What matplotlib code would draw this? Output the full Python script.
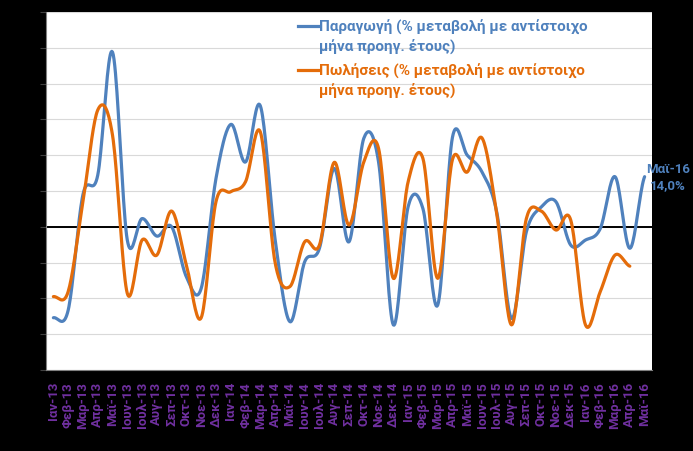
import numpy as np
import matplotlib
matplotlib.use("Agg")
import matplotlib.pyplot as plt
from matplotlib.lines import Line2D

# Monthly labels, Jan-13 .. May-16
months = ["Ιαν-13", "Φεβ-13", "Μαρ-13", "Απρ-13", "Μαϊ-13", "Ιουν-13", "Ιουλ-13", "Αυγ-13",
          "Σεπ-13", "Οκτ-13", "Νοε-13", "Δεκ-13", "Ιαν-14", "Φεβ-14", "Μαρ-14", "Απρ-14",
          "Μαϊ-14", "Ιουν-14", "Ιουλ-14", "Αυγ-14", "Σεπ-14", "Οκτ-14", "Νοε-14", "Δεκ-14",
          "Ιαν-15", "Φεβ-15", "Μαρ-15", "Απρ-15", "Μαϊ-15", "Ιουν-15", "Ιουλ-15", "Αυγ-15",
          "Σεπ-15", "Οκτ-15", "Νοε-15", "Δεκ-15", "Ιαν-16", "Φεβ-16", "Μαρ-16", "Απρ-16",
          "Μαϊ-16"]

# % change vs same month of previous year
production = [-25.4, -23.3, 9.0, 14.4, 48.8, -3.7, 2.3, -2.6, 0.0, -14.0, -17.2, 13.5,
              28.6, 18.1, 33.8, -3.5, -26.5, -9.8, -6.0, 16.3, -4.2, 24.7, 18.1, -27.4,
              5.6, 5.1, -21.9, 25.0, 20.0, 15.3, 4.0, -25.6, -1.4, 5.5, 7.0, -5.1,
              -3.7, -0.5, 14.0, -6.0, 14.0]
sales = [-19.5, -18.1, 7.0, 32.6, 25.6, -18.6, -3.7, -7.9, 4.4, -10.7, -25.4, 7.0,
         9.8, 12.6, 26.5, -10.0, -16.7, -4.2, -5.1, 18.0, 0.5, 18.1, 21.9, -14.4,
         12.6, 19.1, -14.4, 18.8, 15.3, 24.8, 3.5, -27.4, 2.3, 4.4, -0.9, 1.9,
         -27.4, -18.1, -7.9, -11.0]

blue = "#4F81BD"
orange = "#E46C0A"
purple = "#7030A0"

label_prod = ["Παραγωγή (% μεταβολή με αντίστοιχο", "μήνα προηγ. έτους)"]
label_sales = ["Πωλήσεις (% μεταβολή με αντίστοιχο", "μήνα προηγ. έτους)"]


def smooth(y, n=20):
    # Catmull-Rom curve through the points, like Excel's smoothed line
    y = np.asarray(y, dtype=float)
    p = np.concatenate([[y[0]], y, [y[-1]]])
    xs, ys = [], []
    t = np.linspace(0, 1, n, endpoint=False)
    for i in range(len(y) - 1):
        p0, p1, p2, p3 = p[i], p[i + 1], p[i + 2], p[i + 3]
        c = 0.5 * (2 * p1 + (-p0 + p2) * t + (2 * p0 - 5 * p1 + 4 * p2 - p3) * t ** 2
                   + (-p0 + 3 * p1 - 3 * p2 + p3) * t ** 3)
        xs.append(i + t)
        ys.append(c)
    xs.append([len(y) - 1])
    ys.append([y[-1]])
    return np.concatenate(xs), np.concatenate(ys)


plt.rcParams['font.family'] = ['Roboto', 'DejaVu Sans']

W, H = 693, 452
fig = plt.figure(figsize=(W / 100, H / 100), dpi=100, facecolor="black")
ax = fig.add_axes([46 / W, 1 - 371 / H, 606 / W, 358 / H])
ax.set_facecolor("white")

xb, yb = smooth(production)
xo, yo = smooth(sales)
ax.plot(xb, yb, color=blue, lw=2.3, solid_capstyle="round", zorder=3)
ax.plot(xo, yo, color=orange, lw=2.3, solid_capstyle="round", zorder=3)

ax.axhline(0, color="black", lw=1.4, zorder=2)

ax.set_xlim(-0.5, len(months) - 0.5)
ax.set_ylim(-40, 60)
ax.set_yticks(np.arange(-40, 61, 10))
ax.grid(axis="y", color="#D9D9D9", lw=0.8)
ax.set_axisbelow(True)
ax.tick_params(axis="y", labelleft=False, length=4, color="#404040")

ax.set_xticks(range(len(months)))
ax.set_xticklabels(months, rotation=90, color=purple, fontweight="bold", fontsize=9.5)
ax.tick_params(axis="x", length=0, pad=8)

for s in ["top", "right"]:
    ax.spines[s].set_visible(False)
ax.spines["left"].set_color("#808080")
ax.spines["bottom"].set_color("#808080")

# legend drawn like Excel's: marker next to the first line of each label
for col, lines, y0 in [(blue, label_prod, 27), (orange, label_sales, 71)]:
    fig.add_artist(Line2D([298 / W, 318 / W], [1 - y0 / H, 1 - y0 / H],
                          color=col, lw=2.3, transform=fig.transFigure))
    fig.text(319 / W, 1 - y0 / H, lines[0], color=col, fontweight="bold",
             fontsize=11, va="center", ha="left")
    fig.text(319 / W, 1 - (y0 + 19) / H, lines[1], color=col, fontweight="bold",
             fontsize=11, va="center", ha="left")

# label for the last point
ax.annotate(f"{months[-1]}\n{production[-1]:.1f}%".replace(".", ","),
            xy=(len(months) - 1, production[-1]), xytext=(17, 0),
            textcoords="offset points", ha="center", va="center", linespacing=1.3,
            color=blue, fontweight="bold", fontsize=9.5, annotation_clip=False)

fig.savefig("out.png", dpi=100, facecolor="black")
